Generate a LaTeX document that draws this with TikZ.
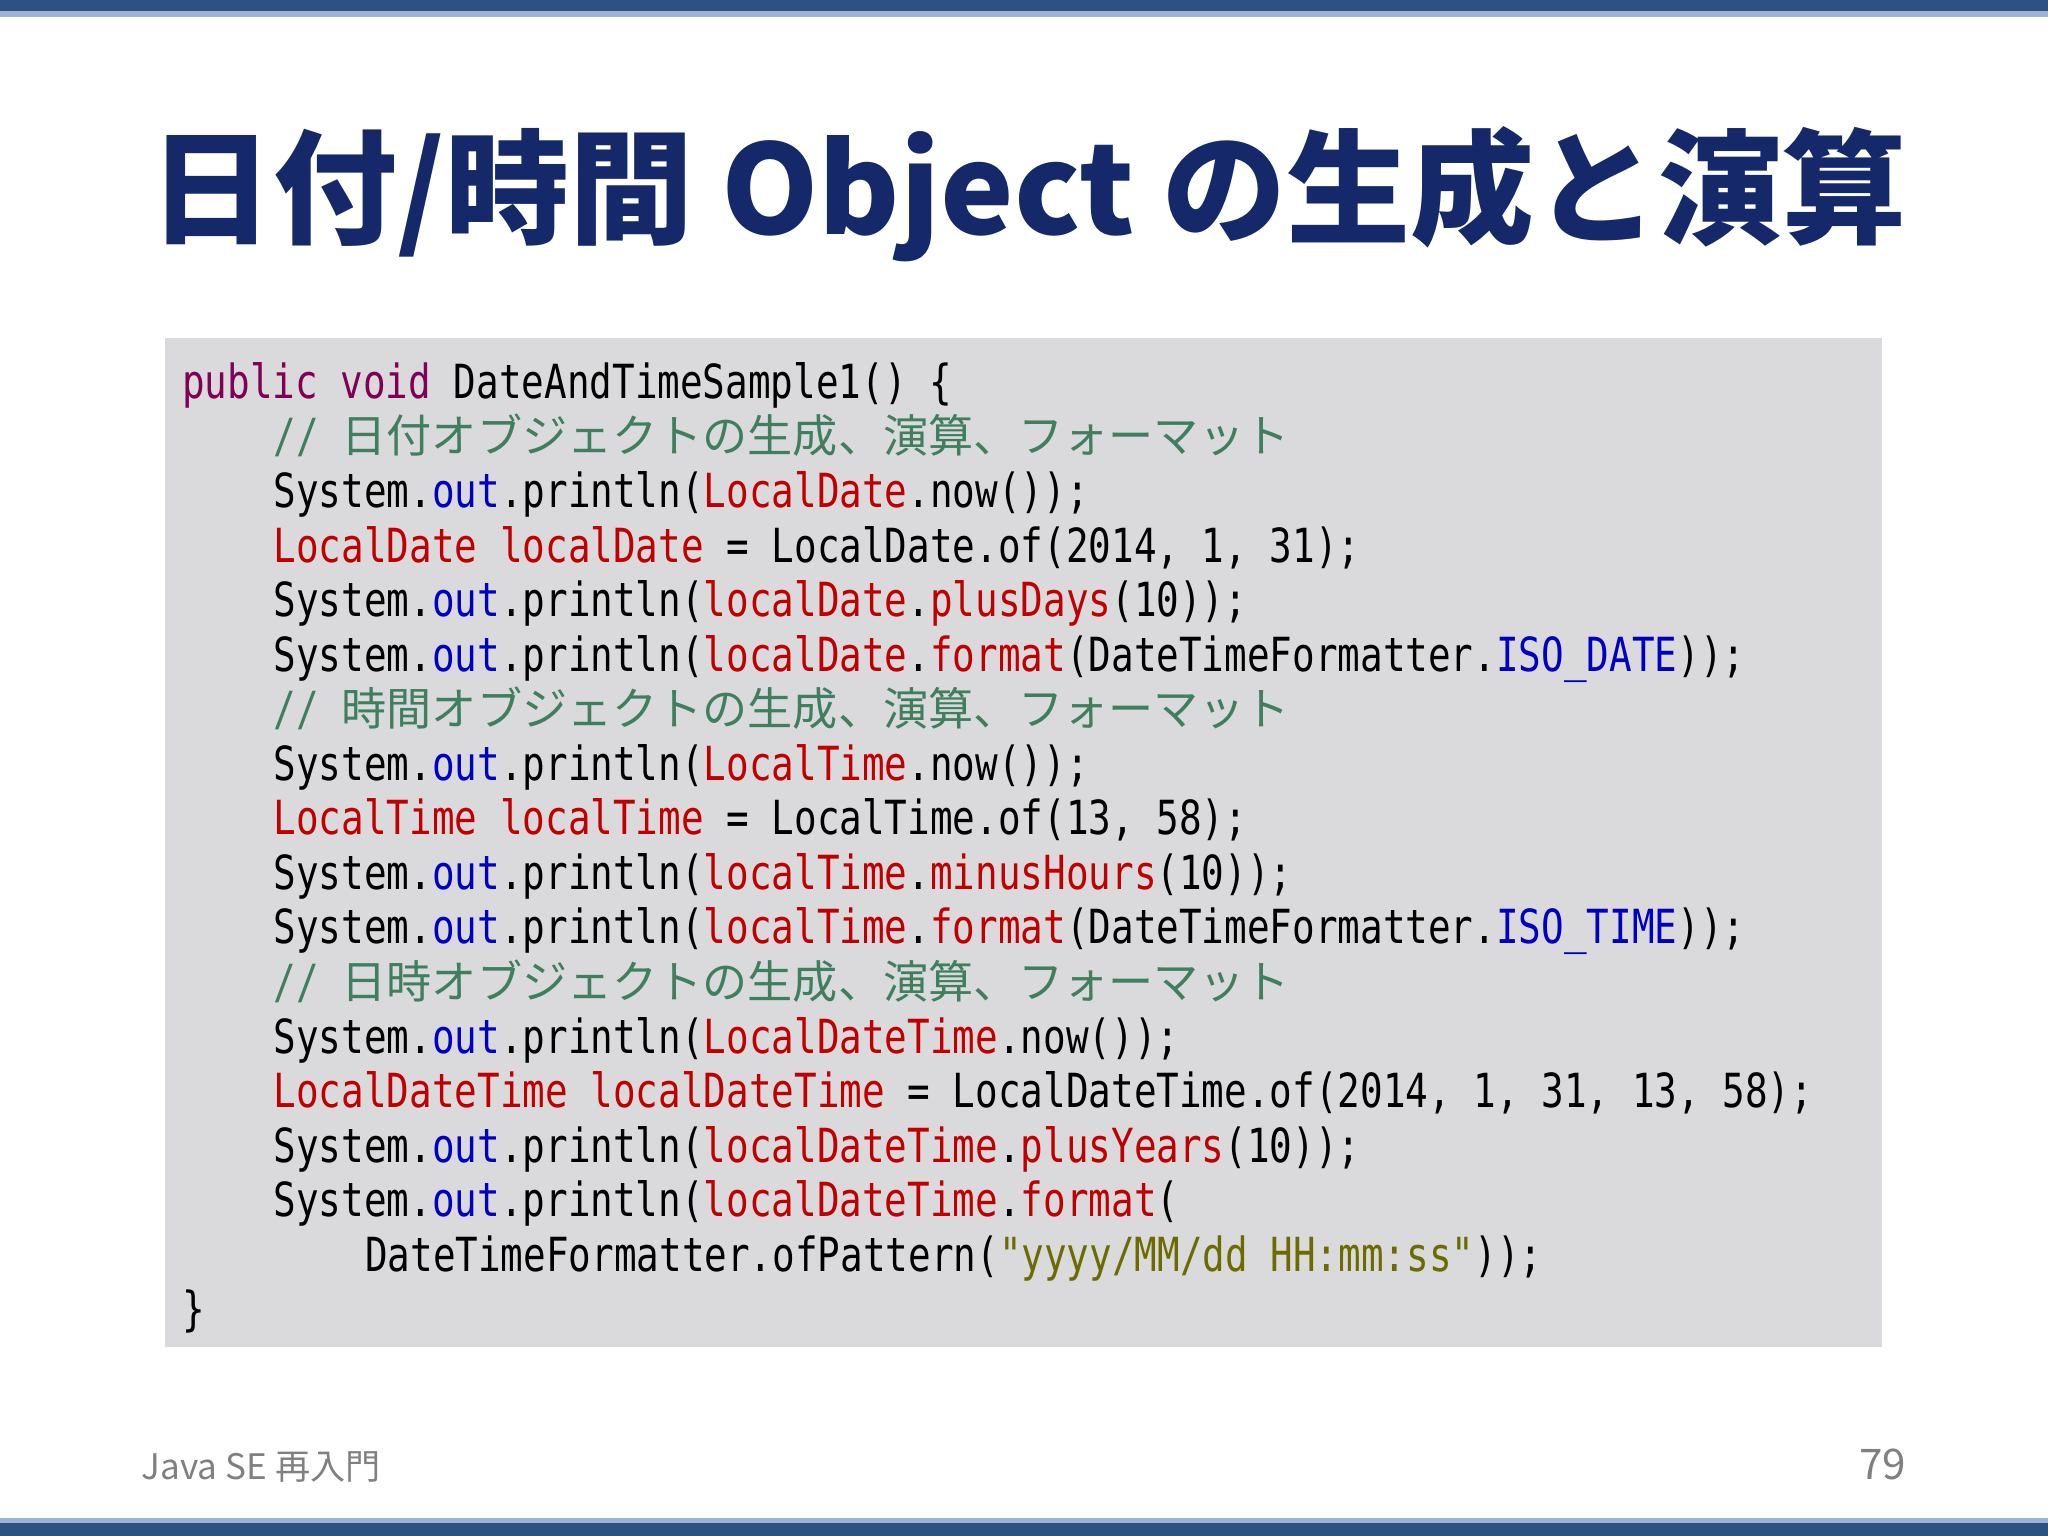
\documentclass[tikz,border=0pt]{standalone}
\usepackage{fontspec}
\usepackage{graphicx}
\setmonofont{DejaVu Sans Mono}
\newfontfamily\cjk{Noto Sans CJK JP}
\newfontfamily\cjkc{Noto Sans CJK JP}[Scale=1.2]
\definecolor{navy}{HTML}{14286A}
\definecolor{bardark}{HTML}{2C5282}
\definecolor{barlight}{HTML}{9DB3D4}
\definecolor{boxgray}{HTML}{DADADC}
\definecolor{kw}{HTML}{7F0055}
\definecolor{cm}{HTML}{3F7F5F}
\definecolor{cl}{HTML}{C00000}
\definecolor{fd}{HTML}{0000C0}
\definecolor{st}{HTML}{6B6B00}
\newcommand{\K}[1]{\textcolor{kw}{#1}}
\newcommand{\C}[1]{\textcolor{cl}{#1}}
\newcommand{\F}[1]{\textcolor{fd}{#1}}
\newcommand{\Ss}[1]{\textcolor{st}{#1}}
\newcommand{\Cm}[1]{\textcolor{cm}{\scalebox{1}[1.25]{//}~{\cjkc #1}}}
\tikzset{code/.style={anchor=base west,inner sep=0pt,font=\ttfamily\fontsize{10.7pt}{12pt}\selectfont,text=black}}
\newcommand{\Ln}[3]{\node[code] (l#1) at (#2,{-3.984-0.5455*(#1-1)}) {\scalebox{1}[1.25]{#3}};}
\newcommand{\Lc}[3]{\node[code] (l#1) at (#2,{-3.984-0.5455*(#1-1)}) {#3};}
\begin{document}
\begin{tikzpicture}
\useasboundingbox (0,0) rectangle (20.48,-15.36);
\fill[bardark] (0,0) rectangle (20.48,-0.11);
\fill[barlight] (0,-0.11) rectangle (20.48,-0.17);
\fill[barlight] (0,-15.18) rectangle (20.48,-15.23);
\fill[bardark] (0,-15.23) rectangle (20.48,-15.36);
\node[anchor=base,inner sep=0pt,text=navy] (title) at (10.28,-2.35)
 {\resizebox{17.57cm}{!}{\cjk\bfseries 日付/時間 Object の生成と演算}};
\fill[boxgray] (1.646,-3.383) rectangle (18.82,-13.47);
\Ln{1}{1.815}{\K{public} \K{void} DateAndTimeSample1() \{}
\Lc{2}{2.73}{\Cm{日付オブジェクトの生成、演算、フォーマット}}
\Ln{3}{2.73}{System.\F{out}.println(\C{LocalDate}.now());}
\Ln{4}{2.73}{\C{LocalDate} \C{localDate} = LocalDate.of(2014, 1, 31);}
\Ln{5}{2.73}{System.\F{out}.println(\C{localDate}.\C{plusDays}(10));}
\Ln{6}{2.73}{System.\F{out}.println(\C{localDate}.\C{format}(DateTimeFormatter.\F{ISO\_DATE}));}
\Lc{7}{2.73}{\Cm{時間オブジェクトの生成、演算、フォーマット}}
\Ln{8}{2.73}{System.\F{out}.println(\C{LocalTime}.now());}
\Ln{9}{2.73}{\C{LocalTime} \C{localTime} = LocalTime.of(13, 58);}
\Ln{10}{2.73}{System.\F{out}.println(\C{localTime}.\C{minusHours}(10));}
\Ln{11}{2.73}{System.\F{out}.println(\C{localTime}.\C{format}(DateTimeFormatter.\F{ISO\_TIME}));}
\Lc{12}{2.73}{\Cm{日時オブジェクトの生成、演算、フォーマット}}
\Ln{13}{2.73}{System.\F{out}.println(\C{LocalDateTime}.now());}
\Ln{14}{2.73}{\C{LocalDateTime} \C{localDateTime} = LocalDateTime.of(2014, 1, 31, 13, 58);}
\Ln{15}{2.73}{System.\F{out}.println(\C{localDateTime}.\C{plusYears}(10));}
\Ln{16}{2.73}{System.\F{out}.println(\C{localDateTime}.\C{format}(}
\Ln{17}{3.644}{DateTimeFormatter.ofPattern(\Ss{"yyyy/MM/dd HH:mm:ss"}));}
\Ln{18}{1.815}{\}}
\node[anchor=base west,inner sep=0pt,text=gray,font=\cjk\fontsize{10pt}{12pt}\selectfont] (foot) at (1.41,-14.79) {Java SE 再入門};
\node[anchor=base east,inner sep=0pt,text=gray,font=\cjk\fontsize{12pt}{14pt}\selectfont] (page) at (19.07,-14.79) {79};
\end{tikzpicture}
\end{document}
